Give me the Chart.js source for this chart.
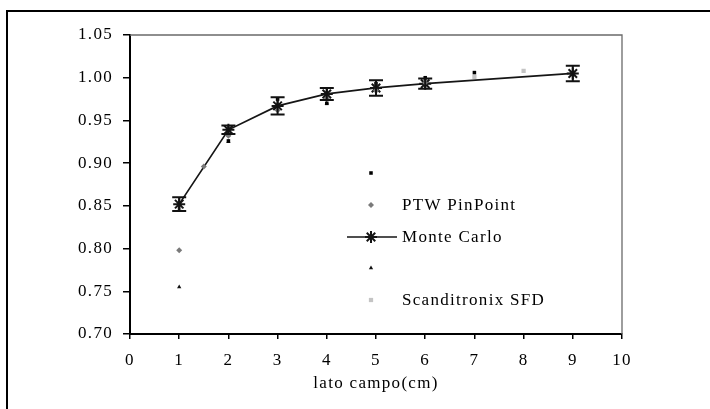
<!DOCTYPE html>
<html>
<head>
<meta charset="utf-8">
<script src="https://cdn.jsdelivr.net/npm/chart.js@4"></script>
<style>
  html, body { margin: 0; padding: 0; background: #fff; overflow: hidden; }
  #wrap { width: 710px; height: 409px; }
</style>
</head>
<body>
<div id="wrap"><canvas id="fieldChart" width="710" height="409"></canvas></div>
<script>
// field side (cm) and output factors per detector
const xTicks = [0, 1, 2, 3, 4, 5, 6, 7, 8, 9, 10];
const yTicks = [0.70, 0.75, 0.80, 0.85, 0.90, 0.95, 1.00, 1.05];

const blackSide = [2, 3, 4, 5, 6, 7];
const blackValue = [0.926, 0.975, 0.970, 0.993, 1.000, 1.006];

const pinPointSide = [1, 1.5, 2, 3, 4, 5, 6];
const pinPointValue = [0.798, 0.896, 0.932, 0.962, 0.976, 0.985, 0.994];

const monteCarloSide = [1, 2, 3, 4, 5, 6, 9];
const monteCarloValue = [0.852, 0.939, 0.967, 0.981, 0.988, 0.993, 1.005];
const monteCarloError = [0.008, 0.005, 0.010, 0.007, 0.009, 0.006, 0.009];

const triangleSide = [1, 2, 4];
const triangleValue = [0.755, 0.925, 0.970];

const sfdSide = [1, 2, 3, 4, 5, 6, 7, 8];
const sfdValue = [0.846, 0.933, 0.963, 0.976, 0.985, 0.995, 1.001, 1.008];

const FONT = { family: "'Liberation Serif', 'DejaVu Serif', serif", size: 17 };
const SPACING = '1.3px';

function pts(xs, ys) {
    return xs.map((x, i) => ({ x: x, y: ys[i] }));
}

const datasets = [
    {
        label: '',
        data: pts(blackSide, blackValue),
        showLine: false,
        pointStyle: 'rect',
        pointRadius: 2.5,
        backgroundColor: '#000',
        borderColor: '#000',
        borderWidth: 0
    },
    {
        label: 'PTW PinPoint',
        data: pts(pinPointSide, pinPointValue),
        showLine: false,
        pointStyle: 'rectRot',
        pointRadius: 3,
        backgroundColor: '#7a7a7a',
        borderColor: '#7a7a7a',
        borderWidth: 0
    },
    {
        label: 'Monte Carlo',
        data: pts(monteCarloSide, monteCarloValue),
        showLine: true,
        tension: 0,
        borderColor: '#151515',
        borderWidth: 1.7,
        pointStyle: 'star',
        pointRadius: 6,
        pointBorderWidth: 2,
        pointBorderColor: '#151515',
        pointBackgroundColor: '#151515'
    },
    {
        label: '',
        data: pts(triangleSide, triangleValue),
        showLine: false,
        pointStyle: 'triangle',
        pointRadius: 2.5,
        backgroundColor: '#111',
        borderColor: '#111',
        borderWidth: 0
    },
    {
        label: 'Scanditronix SFD',
        data: pts(sfdSide, sfdValue),
        showLine: false,
        pointStyle: 'rect',
        pointRadius: 3,
        backgroundColor: '#c4c4c4',
        borderColor: '#c4c4c4',
        borderWidth: 0
    }
];

// letter spacing for the serif text
const spacingPlugin = {
    id: 'spacing',
    beforeUpdate(chart) { chart.ctx.letterSpacing = SPACING; },
    beforeDraw(chart) { chart.ctx.letterSpacing = SPACING; }
};

// outer frame plus the thin top/right box of the plot area
const framePlugin = {
    id: 'frame',
    beforeDraw(chart) {
        const ctx = chart.ctx;
        ctx.save();
        ctx.strokeStyle = '#000';
        ctx.lineWidth = 2;
        ctx.beginPath();
        ctx.moveTo(7, 420);
        ctx.lineTo(7, 11);
        ctx.lineTo(720, 11);
        ctx.stroke();
        ctx.restore();
    },
    afterDraw(chart) {
        const a = chart.chartArea;
        const ctx = chart.ctx;
        ctx.save();
        ctx.strokeStyle = '#6a6a6a';
        ctx.lineWidth = 1.3;
        ctx.beginPath();
        ctx.moveTo(a.left, a.top);
        ctx.lineTo(a.right, a.top);
        ctx.lineTo(a.right, a.bottom);
        ctx.stroke();
        ctx.restore();
    }
};

// vertical error bars with caps on the Monte Carlo points
const errorBarPlugin = {
    id: 'errorBars',
    afterDatasetsDraw(chart) {
        const xs = chart.scales.x;
        const ys = chart.scales.y;
        const ctx = chart.ctx;
        ctx.save();
        ctx.strokeStyle = '#111';
        ctx.lineWidth = 2;
        monteCarloSide.forEach((side, i) => {
            const px = xs.getPixelForValue(side);
            const top = ys.getPixelForValue(monteCarloValue[i] + monteCarloError[i]);
            const bot = ys.getPixelForValue(monteCarloValue[i] - monteCarloError[i]);
            ctx.beginPath();
            ctx.moveTo(px, top);
            ctx.lineTo(px, bot);
            ctx.moveTo(px - 7, top);
            ctx.lineTo(px + 7, top);
            ctx.moveTo(px - 7, bot);
            ctx.lineTo(px + 7, bot);
            ctx.stroke();
        });
        ctx.restore();
    }
};

// legend drawn inside the plot area
const legendPlugin = {
    id: 'innerLegend',
    afterDraw(chart) {
        const ctx = chart.ctx;
        const markX = 371;
        const textX = 402;
        const rows = [173, 205, 237, 268, 300];
        ctx.save();
        ctx.letterSpacing = SPACING;
        ctx.font = `${FONT.size}px ${FONT.family}`;
        ctx.textBaseline = 'middle';
        ctx.fillStyle = '#000';
        chart.data.datasets.forEach((ds, i) => {
            const y = rows[i];
            if (ds.showLine) {
                ctx.strokeStyle = ds.borderColor;
                ctx.lineWidth = ds.borderWidth;
                ctx.beginPath();
                ctx.moveTo(347, y);
                ctx.lineTo(397, y);
                ctx.stroke();
                ctx.fillStyle = ds.pointBackgroundColor;
                ctx.strokeStyle = ds.pointBorderColor;
                ctx.lineWidth = ds.pointBorderWidth;
                Chart.helpers.drawPoint(ctx, { pointStyle: ds.pointStyle, radius: ds.pointRadius, borderWidth: ds.pointBorderWidth }, markX, y);
            } else {
                ctx.fillStyle = ds.backgroundColor;
                ctx.strokeStyle = ds.borderColor;
                ctx.lineWidth = 0;
                Chart.helpers.drawPoint(ctx, { pointStyle: ds.pointStyle, radius: ds.pointRadius, borderWidth: 0 }, markX, y);
            }
            if (ds.label) {
                ctx.fillStyle = '#000';
                ctx.fillText(ds.label, textX, y + 1);
            }
        });
        ctx.restore();
    }
};

new Chart(document.getElementById('fieldChart'), {
    type: 'scatter',
    data: { datasets: datasets },
    plugins: [spacingPlugin, framePlugin, errorBarPlugin, legendPlugin],
    options: {
        responsive: false,
        animation: false,
        layout: { padding: { top: 35, right: 88, left: 0, bottom: 15 } },
        plugins: {
            legend: { display: false },
            tooltip: { enabled: false }
        },
        scales: {
            x: {
                type: 'linear',
                min: xTicks[0],
                max: xTicks[xTicks.length - 1],
                afterBuildTicks: (scale) => { scale.ticks = xTicks.map(v => ({ value: v })); },
                afterFit: (scale) => { scale.height = 60; },
                grid: { drawOnChartArea: false, tickLength: 5, color: '#000', lineWidth: 1.5 },
                border: { color: '#000', width: 2 },
                ticks: { color: '#000', font: FONT, padding: 11, maxRotation: 0 },
                title: { display: true, text: 'lato campo(cm)', color: '#000', font: FONT, padding: { top: 0, bottom: 0 } }
            },
            y: {
                type: 'linear',
                min: yTicks[0],
                max: yTicks[yTicks.length - 1],
                afterBuildTicks: (scale) => { scale.ticks = yTicks.map(v => ({ value: v })); },
                afterFit: (scale) => { scale.width = 130; },
                grid: { drawOnChartArea: false, tickLength: 7, color: '#000', lineWidth: 1.5 },
                border: { color: '#000', width: 2 },
                ticks: { color: '#000', font: FONT, padding: 10, callback: (v) => v.toFixed(2) }
            }
        }
    }
});
</script>
</body>
</html>
